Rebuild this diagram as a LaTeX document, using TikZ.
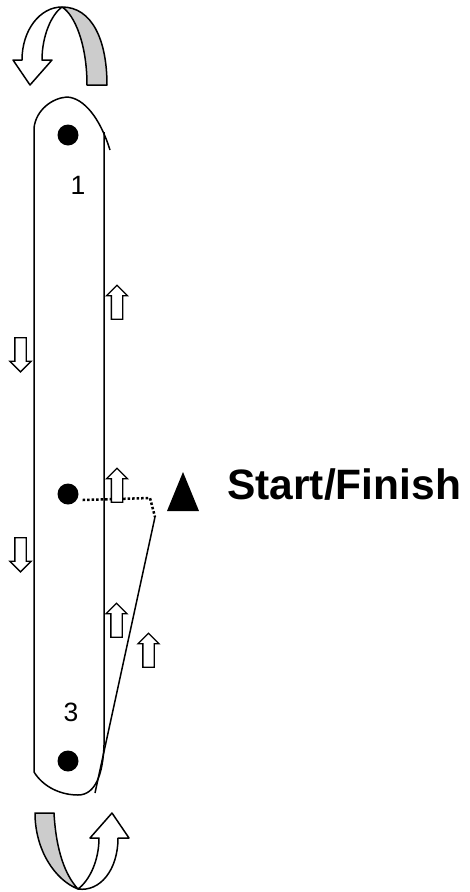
\documentclass[tikz,border=0pt]{standalone}
\usepackage{fontspec}
\setmainfont{Liberation Sans}
\usetikzlibrary{shapes.arrows}

\tikzset{
  band/.style={line width=1.5pt,line join=round},
  hole/.style={circle,fill=black,inner sep=0pt,minimum size=21pt},
  num/.style={inner sep=0pt,font=\fontsize{26.5}{26.5}\selectfont},
  trail/.style={line width=2.5pt,dash pattern=on 2.5pt off 2pt},
  uparr/.style={single arrow,draw,fill=white,line width=1.3pt,rotate=90,
    minimum height=34pt,inner sep=5pt,single arrow head extend=5pt},
  downarr/.style={uparr,rotate=180},
  ribbon/.style={draw,line width=1.5pt,line join=round}
}

\begin{document}
\begin{tikzpicture}[x=1pt,y=-1pt]
  \useasboundingbox (0,0) rectangle (469,892);
  % turning arrows
  \path[ribbon,fill=white] (22,60) .. controls (22,30) and (40,7) .. (62,7)
    .. controls (52,14) and (42,35) .. (42,60) -- (52,60) -- (30,85) -- (13,60) -- cycle;
  \path[ribbon,fill=black!20] (62,7) .. controls (92,7) and (107,40) .. (107,85)
    -- (87,85) .. controls (87,45) and (75,15) .. (62,7) -- cycle;
  \path[ribbon,fill=black!20] (35,813) -- (54,813) .. controls (56,850) and (65,875) .. (78,889)
    .. controls (55,880) and (35,850) .. (35,813) -- cycle;
  \path[ribbon,fill=white] (78,889) .. controls (90,880) and (99,860) .. (99,838)
    -- (90,838) -- (112,813) -- (129,838) -- (118,838)
    .. controls (118,870) and (100,892) .. (78,889) -- cycle;
  % the strip
  \draw[band] (34,772) -- (34,128) .. controls (36,110) and (52,98) .. (67,97)
    .. controls (84,98) and (100,118) .. (110,150);
  \draw[band] (104,132) -- (104,745) .. controls (103,775) and (95,795) .. (78,795)
    .. controls (62,795) and (44,788) .. (34,772);
  \node[hole] (top) at (68,135) {};
  \node[hole] (mid) at (68,494) {};
  \node[hole] (bot) at (68,761) {};
  \node[num] (one) at (78,185) {1};
  \node[num] (three) at (71,712.5) {3};
  % route from start
  \coordinate (corner) at (150,498);
  \coordinate (turn) at (155,517);
  \coordinate (tail) at (95,793);
  \draw[trail] ([xshift=4pt,yshift=-6pt]mid.east) -- (corner) -- (turn);
  \draw[band] (turn) -- (tail);
  % direction arrows
  \node[uparr] (up1) at (117,305) {};
  \node[uparr] (up2) at (117,488) {};
  \node[uparr] (up3) at (116.5,623) {};
  \node[uparr] (up4) at (148.5,653) {};
  \node[downarr] (dn1) at (20.5,352) {};
  \node[downarr] (dn2) at (20.5,552) {};
  % start marker
  \fill (183,472) -- (199,511) -- (167,511) -- cycle;
  \node[anchor=base west,inner sep=0pt,font=\bfseries\fontsize{42.5}{42.5}\selectfont]
    (start) at (227,499) {Start/Finish};
\end{tikzpicture}
\end{document}
